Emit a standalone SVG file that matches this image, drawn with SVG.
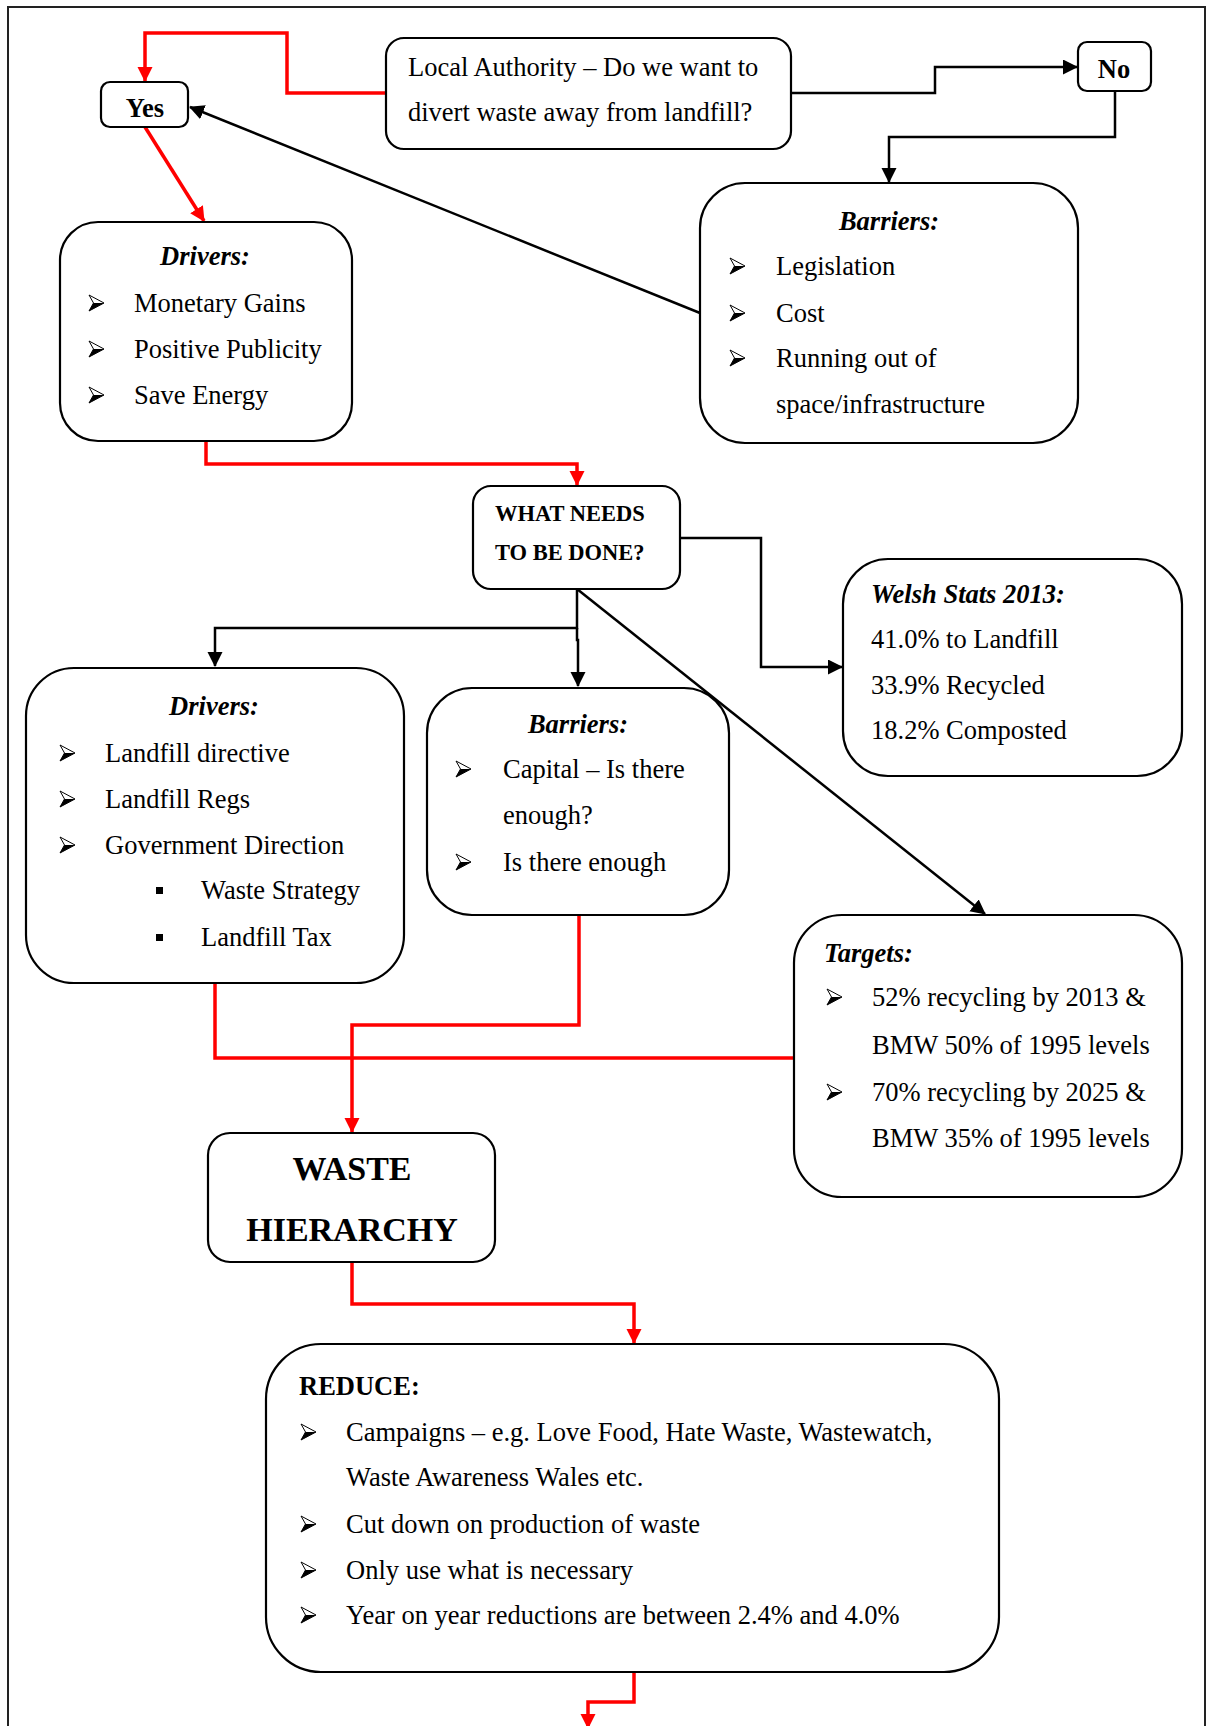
<svg xmlns="http://www.w3.org/2000/svg" xmlns:xlink="http://www.w3.org/1999/xlink" width="1210" height="1726" viewBox="0 0 1210 1726">
  <style>
    .box { fill: #ffffff; stroke: #000000; stroke-width: 2.2; }
    .t { font-family: "Liberation Serif", "Times New Roman", serif; font-size: 26.5px; fill: #000000; }
    .b { font-weight: bold; }
    .bi { font-weight: bold; font-style: italic; }
    .mid { text-anchor: middle; }
    .red { fill: none; stroke: #ff0000; stroke-width: 3.5; }
    .blk { fill: none; stroke: #000000; stroke-width: 2.5; }
    .frame { fill: none; stroke: #222222; stroke-width: 2; }
  </style>
  <defs>
    <marker id="ahRed" markerUnits="userSpaceOnUse" markerWidth="16" markerHeight="16" refX="14" refY="7.5" orient="auto">
      <path d="M0,0 L15,7.5 L0,15 Z" fill="#ff0000"/>
    </marker>
    <marker id="ahBlk" markerUnits="userSpaceOnUse" markerWidth="16" markerHeight="16" refX="14" refY="7.5" orient="auto">
      <path d="M0,0 L15,7.5 L0,15 Z" fill="#000000"/>
    </marker>
    <!-- three-d arrowhead bullet, origin at top-left -->
    <g id="bul">
      <path d="M0,0 L15,8 L0,16 L4.5,8 Z" fill="#ffffff" stroke="#000000" stroke-width="1"/>
      <path d="M4.5,8 L15,8 L0,16 Z" fill="#000000"/>
    </g>
    <rect id="sq" width="7" height="7" fill="#000000"/>
  </defs>

  <!-- page frame -->
  <path class="frame" d="M8,1726 V7 H1205 V1726"/>

  <g id="connectors">
    <path class="red" d="M386,93 H287 V33 H145 V81" marker-end="url(#ahRed)"/>
    <path class="red" d="M145,127 L204,221" marker-end="url(#ahRed)"/>
    <path class="red" d="M206,441 V464 H577 V485" marker-end="url(#ahRed)"/>
    <path class="red" d="M215,983 V1058 H794"/>
    <path class="red" d="M579,915 V1025 H352 V1132" marker-end="url(#ahRed)"/>
    <path class="red" d="M352,1262 V1304 H634 V1343" marker-end="url(#ahRed)"/>
    <path class="red" d="M634,1672 V1702 H588 V1728" marker-end="url(#ahRed)"/>

    <path class="blk" d="M791,93 H935 V67 H1077" marker-end="url(#ahBlk)"/>
    <path class="blk" d="M1115,91 V137 H889 V182" marker-end="url(#ahBlk)"/>
    <path class="blk" d="M700,313 L190,107" marker-end="url(#ahBlk)"/>
    <path class="blk" d="M680,538 H761 V667 H842" marker-end="url(#ahBlk)"/>
    <path class="blk" d="M577,589 V628 H215 V666" marker-end="url(#ahBlk)"/>
    <path class="blk" d="M577,628 V640 H578 V686" marker-end="url(#ahBlk)"/>
    <path class="blk" d="M577,589 L985,914" marker-end="url(#ahBlk)"/>
  </g>

  <g id="yes">
    <rect class="box" x="101" y="82" width="87" height="45" rx="9"/>
    <text class="t b mid" x="145" y="117">Yes</text>
  </g>

  <g id="local-authority">
    <rect class="box" x="386" y="38" width="405" height="111" rx="18"/>
    <text class="t" x="408" y="76">Local Authority – Do we want to</text>
    <text class="t" x="408" y="121">divert waste away from landfill?</text>
  </g>

  <g id="no">
    <rect class="box" x="1078" y="42" width="73" height="49" rx="9"/>
    <text class="t b mid" x="1114" y="78">No</text>
  </g>

  <g id="barriers-top">
    <rect class="box" x="700" y="183" width="378" height="260" rx="45"/>
    <text class="t bi mid" x="889" y="230">Barriers:</text>
    <use xlink:href="#bul" x="730" y="258"/>
    <text class="t" x="776" y="275">Legislation</text>
    <use xlink:href="#bul" x="730" y="305"/>
    <text class="t" x="776" y="322">Cost</text>
    <use xlink:href="#bul" x="730" y="350"/>
    <text class="t" x="776" y="367">Running out of</text>
    <text class="t" x="776" y="413">space/infrastructure</text>
  </g>

  <g id="drivers-top">
    <rect class="box" x="60" y="222" width="292" height="219" rx="38"/>
    <text class="t bi mid" x="205" y="265">Drivers:</text>
    <use xlink:href="#bul" x="89" y="295"/>
    <text class="t" x="134" y="312">Monetary Gains</text>
    <use xlink:href="#bul" x="89" y="341"/>
    <text class="t" x="134" y="358">Positive Publicity</text>
    <use xlink:href="#bul" x="89" y="387"/>
    <text class="t" x="134" y="404">Save Energy</text>
  </g>

  <g id="what-needs">
    <rect class="box" x="473" y="486" width="207" height="103" rx="18"/>
    <text class="t b" x="495" y="521" style="font-size:22.5px">WHAT NEEDS</text>
    <text class="t b" x="495" y="560" style="font-size:22.5px">TO BE DONE?</text>
  </g>

  <g id="welsh-stats">
    <rect class="box" x="843" y="559" width="339" height="217" rx="45"/>
    <text class="t bi" x="871" y="603">Welsh Stats 2013:</text>
    <text class="t" x="871" y="648">41.0% to Landfill</text>
    <text class="t" x="871" y="694">33.9% Recycled</text>
    <text class="t" x="871" y="739">18.2% Composted</text>
  </g>

  <g id="drivers-mid">
    <rect class="box" x="26" y="668" width="378" height="315" rx="48"/>
    <text class="t bi mid" x="214" y="715">Drivers:</text>
    <use xlink:href="#bul" x="60" y="745"/>
    <text class="t" x="105" y="762">Landfill directive</text>
    <use xlink:href="#bul" x="60" y="791"/>
    <text class="t" x="105" y="808">Landfill Regs</text>
    <use xlink:href="#bul" x="60" y="837"/>
    <text class="t" x="105" y="854">Government Direction</text>
    <use xlink:href="#sq" x="156" y="887"/>
    <text class="t" x="201" y="899">Waste Strategy</text>
    <use xlink:href="#sq" x="156" y="934"/>
    <text class="t" x="201" y="946">Landfill Tax</text>
  </g>

  <g id="barriers-mid">
    <rect class="box" x="427" y="688" width="302" height="227" rx="45"/>
    <text class="t bi mid" x="578" y="733">Barriers:</text>
    <use xlink:href="#bul" x="456" y="761"/>
    <text class="t" x="503" y="778">Capital – Is there</text>
    <text class="t" x="503" y="824">enough?</text>
    <use xlink:href="#bul" x="456" y="854"/>
    <text class="t" x="503" y="871">Is there enough</text>
  </g>

  <g id="targets">
    <rect class="box" x="794" y="915" width="388" height="282" rx="48"/>
    <text class="t bi" x="824" y="962">Targets:</text>
    <use xlink:href="#bul" x="827" y="989"/>
    <text class="t" x="872" y="1006">52% recycling by 2013 &amp;</text>
    <text class="t" x="872" y="1054">BMW 50% of 1995 levels</text>
    <use xlink:href="#bul" x="827" y="1084"/>
    <text class="t" x="872" y="1101">70% recycling by 2025 &amp;</text>
    <text class="t" x="872" y="1147">BMW 35% of 1995 levels</text>
  </g>

  <g id="waste-hierarchy">
    <rect class="box" x="208" y="1133" width="287" height="129" rx="22"/>
    <text class="t b mid" x="352" y="1180" style="font-size:34px">WASTE</text>
    <text class="t b mid" x="352" y="1241" style="font-size:34px">HIERARCHY</text>
  </g>

  <g id="reduce">
    <rect class="box" x="266" y="1344" width="733" height="328" rx="55"/>
    <text class="t b" x="299" y="1395">REDUCE:</text>
    <use xlink:href="#bul" x="301" y="1424"/>
    <text class="t" x="346" y="1441">Campaigns – e.g. Love Food, Hate Waste, Wastewatch,</text>
    <text class="t" x="346" y="1486">Waste Awareness Wales etc.</text>
    <use xlink:href="#bul" x="301" y="1516"/>
    <text class="t" x="346" y="1533">Cut down on production of waste</text>
    <use xlink:href="#bul" x="301" y="1562"/>
    <text class="t" x="346" y="1579">Only use what is necessary</text>
    <use xlink:href="#bul" x="301" y="1607"/>
    <text class="t" x="346" y="1624">Year on year reductions are between 2.4% and 4.0%</text>
  </g>
</svg>
